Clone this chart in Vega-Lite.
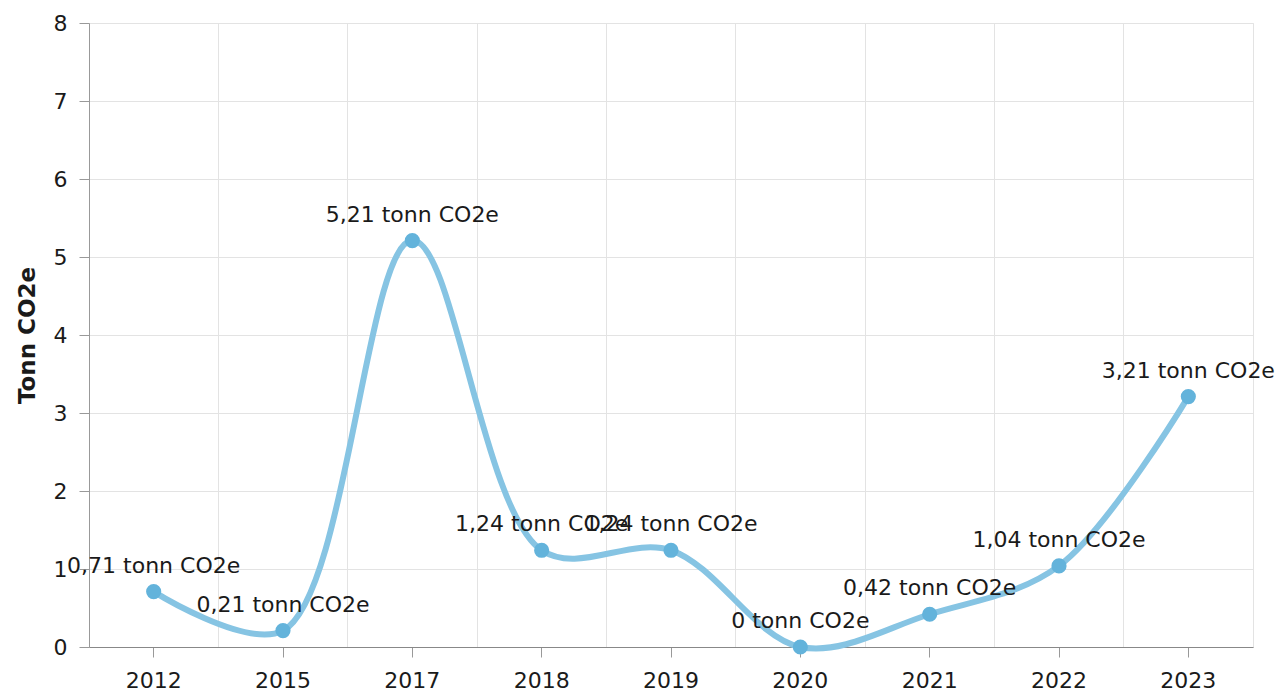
{
  "$schema": "https://vega.github.io/schema/vega-lite/v6.json",
  "width": 1164,
  "height": 624,
  "autosize": {"type": "none"},
  "padding": {"left": 89, "top": 23, "right": 22, "bottom": 47},
  "config": {
    "font": "DejaVu Sans",
    "view": {"stroke": "#e3e3e3", "strokeWidth": 1},
    "axis": {"gridColor": "#e3e3e3", "gridOpacity": 1, "labelColor": "#1a1a1a", "titleColor": "#1a1a1a", "labelFont": "DejaVu Sans", "titleFont": "DejaVu Sans"}
  },
  "data": {
    "values": [
      {"year": "2012", "value": 0.71, "label": "0,71 tonn CO2e"},
      {"year": "2015", "value": 0.21, "label": "0,21 tonn CO2e"},
      {"year": "2017", "value": 5.21, "label": "5,21 tonn CO2e"},
      {"year": "2018", "value": 1.24, "label": "1,24 tonn CO2e"},
      {"year": "2019", "value": 1.24, "label": "1,24 tonn CO2e"},
      {"year": "2020", "value": 0, "label": "0 tonn CO2e"},
      {"year": "2021", "value": 0.42, "label": "0,42 tonn CO2e"},
      {"year": "2022", "value": 1.04, "label": "1,04 tonn CO2e"},
      {"year": "2023", "value": 3.21, "label": "3,21 tonn CO2e"}
    ]
  },
  "layer": [
    {
      "mark": {"type": "line", "interpolate": "catmull-rom", "color": "#86c4e3", "strokeWidth": 6, "strokeCap": "round"},
      "encoding": {
        "x": {"field": "year", "type": "ordinal", "sort": null, "bandPosition": 0.5,
          "scale": {"type": "band", "paddingInner": 0, "paddingOuter": 0},
          "axis": {"orient": "bottom", "grid": true, "bandPosition": 0, "ticks": false, "labels": false, "domain": false, "title": null}},
        "y": {"field": "value", "type": "quantitative",
          "scale": {"domain": [0, 8], "nice": false, "zero": true},
          "axis": {"values": [0, 1, 2, 3, 4, 5, 6, 7, 8], "format": "d", "grid": true, "domainColor": "#999999", "tickColor": "#999999", "tickSize": 10,
            "labelFontSize": 22, "labelPadding": 12, "title": "Tonn CO2e", "titleFontSize": 23, "titleFontWeight": "bold", "titlePadding": 14}}
      }
    },
    {
      "mark": {"type": "circle", "color": "#63b3db", "opacity": 1, "size": 230},
      "encoding": {
        "x": {"field": "year", "type": "ordinal", "sort": null, "bandPosition": 0.5,
          "axis": {"orient": "bottom", "grid": false, "bandPosition": 0.5, "ticks": true, "tickSize": 10, "tickColor": "#999999", "domain": true, "domainColor": "#888888",
            "labels": true, "labelAngle": 0, "labelFontSize": 22, "labelPadding": 13, "title": null}},
        "y": {"field": "value", "type": "quantitative"}
      }
    },
    {
      "mark": {"type": "text", "dy": -26, "fontSize": 22, "color": "#1a1a1a", "baseline": "middle", "align": "center"},
      "encoding": {
        "x": {"field": "year", "type": "ordinal", "sort": null, "bandPosition": 0.5, "axis": null},
        "y": {"field": "value", "type": "quantitative"},
        "text": {"field": "label"}
      }
    }
  ],
  "resolve": {"axis": {"x": "independent"}}
}
